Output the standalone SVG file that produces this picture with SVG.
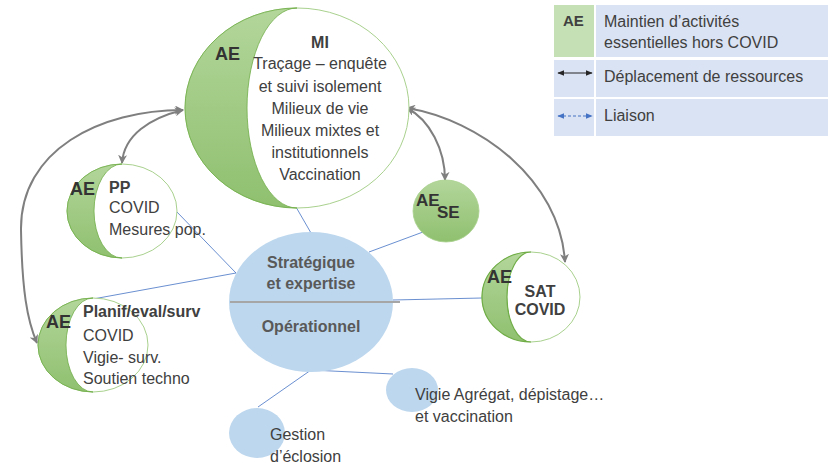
<svg xmlns="http://www.w3.org/2000/svg" width="835" height="466" viewBox="0 0 835 466">
<defs>
<linearGradient id="g" x1="0" y1="0" x2="0" y2="1">
<stop offset="0" stop-color="#b3d69b"/>
<stop offset="1" stop-color="#8fc06f"/>
</linearGradient>
<marker id="ga" viewBox="0 0 10 10" refX="9" refY="5" markerWidth="9" markerHeight="9" orient="auto-start-reverse" markerUnits="userSpaceOnUse">
<path d="M0,0 L10,5 L0,10 L3,5 z" fill="#7f7f7f"/>
</marker>
<marker id="ka" viewBox="0 0 10 10" refX="9" refY="5" markerWidth="7" markerHeight="7" orient="auto-start-reverse" markerUnits="userSpaceOnUse">
<path d="M0,1 L10,5 L0,9 z" fill="#262626"/>
</marker>
<marker id="ba" viewBox="0 0 10 10" refX="9" refY="5" markerWidth="7" markerHeight="7" orient="auto-start-reverse" markerUnits="userSpaceOnUse">
<path d="M0,1 L10,5 L0,9 z" fill="#4472c4"/>
</marker>
</defs>
<style>
text{font-family:"Liberation Sans",Arial,sans-serif;fill:#404040;font-size:16px}
.b{font-weight:bold}
.ae{font-weight:bold;font-size:18px;fill:#333333}
.wc{fill:#ffffff;stroke:#a9d18e;stroke-width:1}
.cr{fill:url(#g);stroke:#70ad47;stroke-width:0.8}
.bl{fill:#bdd7ee}
.lk{stroke:#4472c4;stroke-width:0.8;fill:none}
.mv{stroke:#7f7f7f;stroke-width:2;fill:none;marker-start:url(#ga);marker-end:url(#ga)}
.lg{fill:#dae3f3}
.c{text-anchor:middle}
</style>

<g id="legend">
<rect x="554" y="5" width="40" height="52" fill="#c5e0b4"/>
<rect class="lg" x="596" y="5" width="232" height="52"/>
<rect class="lg" x="554" y="60" width="40" height="37"/>
<rect class="lg" x="596" y="60" width="232" height="37"/>
<rect class="lg" x="554" y="99" width="40" height="37"/>
<rect class="lg" x="596" y="99" width="232" height="37"/>
<text class="b" x="563" y="26" style="font-size:15px">AE</text>
<text x="604" y="27">Maintien d’activités</text>
<text x="604" y="48">essentielles hors COVID</text>
<line x1="558" y1="73" x2="592" y2="73" stroke="#262626" stroke-width="1" marker-start="url(#ka)" marker-end="url(#ka)"/>
<text x="604" y="82">Déplacement de ressources</text>
<line x1="558" y1="116" x2="592" y2="116" stroke="#4472c4" stroke-width="1" stroke-dasharray="3,2" marker-start="url(#ba)" marker-end="url(#ba)"/>
<text x="604" y="121">Liaison</text>
</g>

<g id="connectors">
<line class="lk" x1="296" y1="207" x2="311" y2="233"/>
<line class="lk" x1="177" y1="212" x2="236" y2="273"/>
<line class="lk" x1="236" y1="273" x2="93" y2="299"/>
<line class="lk" x1="369" y1="252" x2="423" y2="232"/>
<line class="lk" x1="393" y1="300" x2="482" y2="298"/>
<line class="lk" x1="311" y1="370" x2="393" y2="374"/>
<line class="lk" x1="311" y1="370" x2="258" y2="407"/>
<path class="mv" d="M183,110 C100,110 20,150 21,230 C22,290 27,320 37,343"/>
<path class="mv" d="M183,110 C150,118 124,135 122,163"/>
<path class="mv" d="M407,108 C430,120 445,150 445,180"/>
<path class="mv" d="M407,108 C480,120 560,180 565,262"/>
</g>

<g id="center">
<ellipse class="bl" cx="311" cy="302" rx="82" ry="70"/>
<line x1="230" y1="302" x2="400" y2="302" stroke="#a6a6a6" stroke-width="2"/>
<text class="b c" x="311" y="268" style="fill:#595959">Stratégique</text>
<text class="b c" x="311" y="289" style="fill:#595959">et expertise</text>
<text class="b c" x="311" y="332" style="fill:#595959">Opérationnel</text>
</g>

<g id="mi">
<ellipse class="wc" cx="297" cy="108" rx="112" ry="100"/>
<path class="cr" d="M297,8 A112,100 0 0,0 297,208 A50,100 0 0,1 297,8 Z"/>
<text class="ae" x="215" y="60">AE</text>
<text class="b c" x="320" y="48">MI</text>
<text class="c" x="320" y="69">Traçage – enquête</text>
<text class="c" x="320" y="92">et suivi isolement</text>
<text class="c" x="320" y="114">Milieux de vie</text>
<text class="c" x="320" y="136">Milieux mixtes et</text>
<text class="c" x="320" y="158">institutionnels</text>
<text class="c" x="320" y="180">Vaccination</text>
</g>

<g id="pp">
<ellipse class="wc" cx="122" cy="211" rx="55" ry="47"/>
<path class="cr" d="M122,164 A55,47 0 0,0 122,258 A28,47 0 0,1 122,164 Z"/>
<text class="ae" x="70" y="195">AE</text>
<text class="b" x="109" y="193">PP</text>
<text x="109" y="213">COVID</text>
<text x="109" y="235">Mesures pop.</text>
</g>

<g id="planif">
<ellipse class="wc" cx="93" cy="345" rx="55" ry="47"/>
<path class="cr" d="M93,298 A55,47 0 0,0 93,392 A27,47 0 0,1 93,298 Z"/>
<text class="ae" x="46" y="328">AE</text>
<text class="b" x="83" y="317">Planif/eval/surv</text>
<text x="83" y="341">COVID</text>
<text x="83" y="363">Vigie- surv.</text>
<text x="83" y="384">Soutien techno</text>
</g>

<g id="se">
<ellipse cx="446" cy="211" rx="33" ry="31" fill="url(#g)" stroke="#a9d18e" stroke-width="0.8"/>
<text class="b" x="416" y="206" style="fill:#333333;font-size:17px">AE</text>
<text class="b" x="437" y="218" style="fill:#333333;font-size:17px">SE</text>
</g>

<g id="sat">
<ellipse class="wc" cx="531" cy="297" rx="49" ry="45"/>
<path class="cr" d="M531,252 A49,45 0 0,0 531,342 A24,45 0 0,1 531,252 Z" style="stroke-width:1.2"/>
<text class="ae" x="487" y="283">AE</text>
<text class="b c" x="540" y="297">SAT</text>
<text class="b c" x="540" y="315">COVID</text>
</g>

<g id="vigie">
<ellipse class="bl" cx="412" cy="390" rx="26" ry="22"/>
<text x="415" y="400">Vigie Agrégat, dépistage…</text>
<text x="415" y="422">et vaccination</text>
</g>

<g id="gestion">
<ellipse class="bl" cx="257" cy="433" rx="28" ry="25"/>
<text x="270" y="440">Gestion</text>
<text x="270" y="462">d’éclosion</text>
</g>
</svg>
